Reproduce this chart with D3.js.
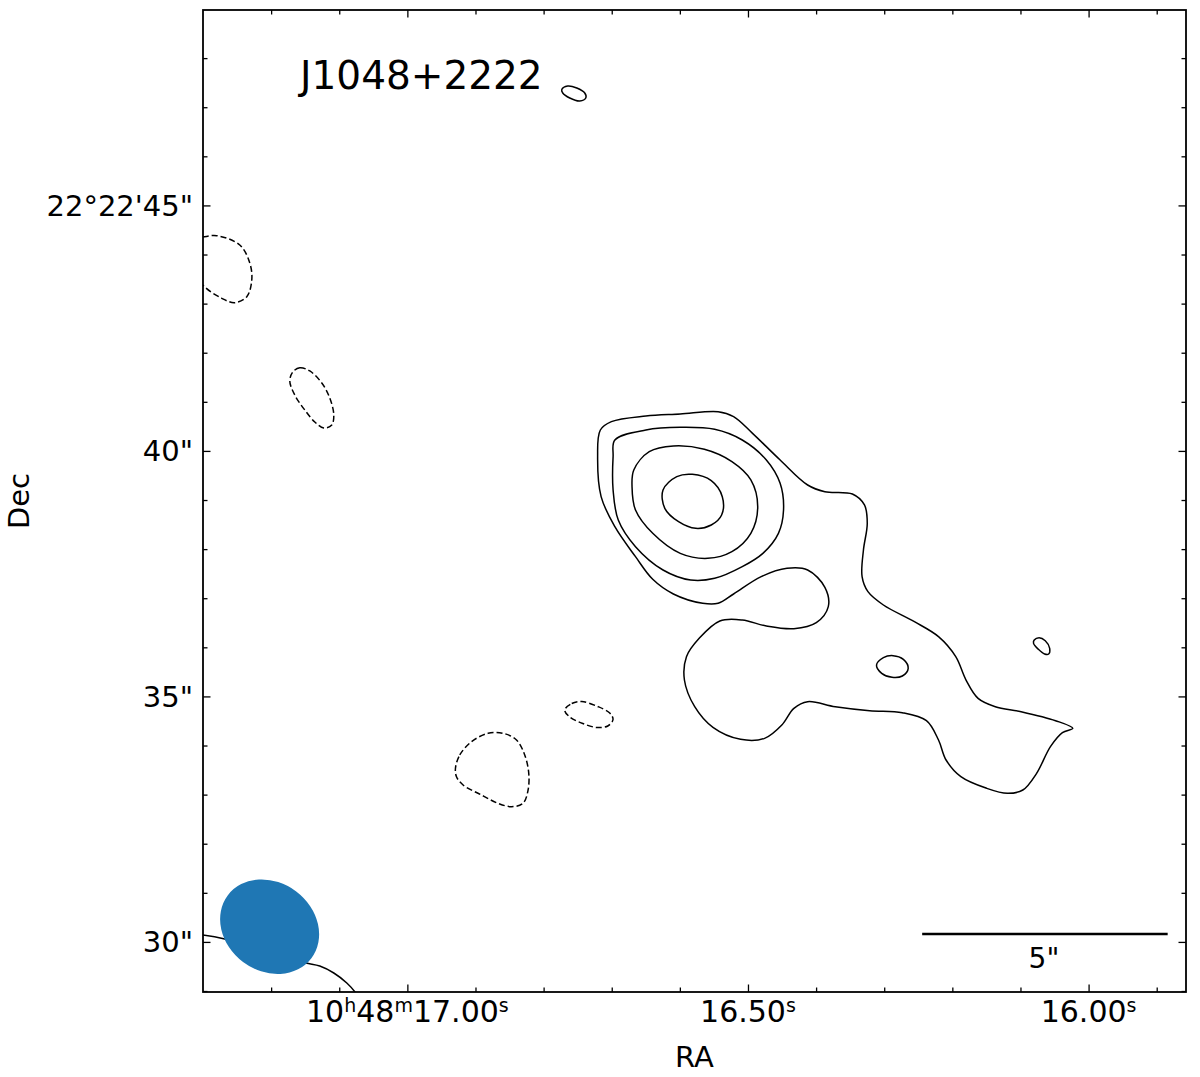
<!DOCTYPE html>
<html>
<head>
<meta charset="utf-8">
<script src="https://cdn.jsdelivr.net/npm/d3@7"></script>
<style>
  body { margin: 0; background: #fff; }
  text { font-family: "DejaVu Sans", sans-serif; fill: #000; }
</style>
</head>
<body>
<div class="contourmap"></div>
<script>
// source name
const sourceName = "J1048+2222";

// axis ticks (RA in seconds of 10h48m, Dec in arcsec of +22d22')
const raMajor = [17.0, 16.5, 16.0];
const raLabels = [["10", "h", "48", "m", "17.00", "s"], ["16.50", "s"], ["16.00", "s"]];
const raMinor = [17.2, 17.1, 16.9, 16.8, 16.7, 16.6, 16.4, 16.3, 16.2, 16.1, 15.9];
const decMajor = [30, 35, 40, 45];
const decLabels = ["30\"", "35\"", "40\"", "22°22'45\""];
const decMinor = [29, 31, 32, 33, 34, 36, 37, 38, 39, 41, 42, 43, 44, 46, 47, 48];

// positive contours, [RA s, Dec "]
const contourLevel1 = [
  [16.7005, 40.596], [16.6499, 40.711], [16.5994, 40.752], [16.5438, 40.799], [16.5211, 40.698],
  [16.4933, 40.358], [16.4528, 39.815], [16.4124, 39.306], [16.3871, 39.170], [16.3467, 39.123],
  [16.3290, 38.899], [16.3249, 38.525], [16.3305, 37.982], [16.3325, 37.439], [16.3239, 37.133],
  [16.3012, 36.862], [16.2557, 36.522], [16.2203, 36.217], [16.1950, 35.810], [16.1799, 35.334],
  [16.1622, 34.961], [16.1369, 34.791], [16.0990, 34.689], [16.0485, 34.506], [16.0232, 34.350],
  [16.0384, 34.262], [16.0560, 33.977], [16.0763, 33.434], [16.0965, 33.094], [16.1192, 33.026],
  [16.1496, 33.128], [16.1875, 33.366], [16.2092, 33.705], [16.2203, 34.112], [16.2380, 34.506],
  [16.2734, 34.669], [16.3214, 34.710], [16.3719, 34.791], [16.4124, 34.893], [16.4326, 34.757],
  [16.4503, 34.418], [16.4756, 34.146], [16.5109, 34.126], [16.5514, 34.370], [16.5782, 34.791],
  [16.5933, 35.334], [16.5903, 35.810], [16.5716, 36.183], [16.5413, 36.536], [16.5084, 36.556],
  [16.4730, 36.434], [16.4326, 36.380], [16.3997, 36.502], [16.3821, 36.828], [16.3871, 37.222],
  [16.4124, 37.575], [16.4427, 37.609], [16.4806, 37.439], [16.5211, 37.086], [16.5438, 36.896],
  [16.5665, 36.896], [16.6095, 37.086], [16.6398, 37.385], [16.6651, 37.846], [16.6954, 38.457],
  [16.7156, 39.068], [16.7207, 39.883], [16.7167, 40.426]
];
const contourLevel2 = [
  [16.6954, 40.222], [16.6499, 40.426], [16.5994, 40.480], [16.5489, 40.440], [16.5084, 40.222],
  [16.4730, 39.815], [16.4528, 39.340], [16.4478, 38.797], [16.4553, 38.322], [16.4781, 37.914],
  [16.5084, 37.643], [16.5489, 37.405], [16.5842, 37.371], [16.6247, 37.575], [16.6651, 38.050],
  [16.6904, 38.593], [16.6980, 39.204], [16.6980, 39.883]
];
const contourLevel3 = [
  [16.6676, 39.611], [16.6449, 39.985], [16.6095, 40.100], [16.5640, 40.032], [16.5236, 39.781],
  [16.4958, 39.408], [16.4857, 38.865], [16.4958, 38.322], [16.5236, 37.948], [16.5590, 37.812],
  [16.5994, 37.914], [16.6398, 38.322], [16.6651, 38.797], [16.6702, 39.272]
];
const contourLevel4 = [
  [16.6247, 39.204], [16.6045, 39.476], [16.5817, 39.523], [16.5539, 39.394], [16.5377, 39.068],
  [16.5387, 38.695], [16.5539, 38.491], [16.5767, 38.423], [16.6019, 38.559], [16.6221, 38.831]
];
const blobTop = [
  [16.7733, 47.361], [16.7646, 47.432], [16.7513, 47.391], [16.7396, 47.290],
  [16.7381, 47.188], [16.7469, 47.127], [16.7616, 47.188], [16.7719, 47.290]
];
const blobMid = [
  [16.3113, 35.640], [16.3012, 35.789], [16.2870, 35.830], [16.2719, 35.755],
  [16.2648, 35.572], [16.2734, 35.416], [16.2885, 35.389], [16.3037, 35.470]
];
const blobRight = [
  [16.0798, 36.149], [16.0727, 36.197], [16.0636, 36.135], [16.0571, 35.979],
  [16.0586, 35.864], [16.0646, 35.864], [16.0737, 35.959], [16.0808, 36.081]
];
// open arc crossing the lower left corner
const arcCorner = [
  [17.3267, 30.161], [17.3003, 30.141], [17.2680, 30.059], [17.2093, 29.774], [17.1491, 29.570],
  [17.1286, 29.509], [17.1080, 29.367], [17.0889, 29.163], [17.0757, 28.959], [17.0654, 28.715]
];

// negative contours (dashed)
const negEdge = [
  [17.3120, 44.336], [17.3003, 44.357], [17.2797, 44.383], [17.2460, 44.194], [17.2313, 43.827],
  [17.2284, 43.481], [17.2357, 43.141], [17.2533, 43.019], [17.2724, 43.108], [17.3003, 43.379],
  [17.3223, 43.888]
];
const negUpper = [
  [17.1682, 41.607], [17.1579, 41.695], [17.1432, 41.628], [17.1256, 41.383], [17.1139, 41.078],
  [17.1080, 40.731], [17.1110, 40.528], [17.1227, 40.467], [17.1359, 40.589], [17.1506, 40.833],
  [17.1653, 41.139], [17.1726, 41.424]
];
const negLower = [
  [16.9294, 33.536], [16.9231, 33.807], [16.9059, 34.078], [16.8815, 34.249], [16.8595, 34.249],
  [16.8398, 34.112], [16.8277, 33.807], [16.8218, 33.434], [16.8228, 33.094], [16.8302, 32.823],
  [16.8472, 32.754], [16.8669, 32.823], [16.8912, 32.992], [16.9182, 33.196], [16.9279, 33.365]
];
const negSmall = [
  [16.7690, 34.723], [16.7587, 34.855], [16.7440, 34.896], [16.7205, 34.794], [16.7029, 34.662],
  [16.6981, 34.530], [16.7058, 34.397], [16.7220, 34.367], [16.7425, 34.448], [16.7616, 34.581]
];

// restoring beam: centre, full axes in arcsec, tilt in degrees
const beamCentre = [17.2022, 30.310];
const beamAxes = [2.13, 1.80];
const beamTilt = 37;

// scale bar: right end and length in arcsec
const scaleBarEnd = [15.8839, 30.161];
const scaleBarLength = 5;

const W = 1200, H = 1077;
const frame = {left: 203, right: 1186, top: 10, bottom: 992};

const svg = d3.select(".contourmap")
  .append("svg")
    .attr("width", W)
    .attr("height", H);

const x = d3.scaleLinear().domain([17.3, 15.857]).range([frame.left, frame.right]);
const y = d3.scaleLinear().domain([28.98, 48.98]).range([frame.bottom, frame.top]);
const pxPerArcsec = y(0) - y(1);

svg.append("clipPath").attr("id", "plotclip")
  .append("rect")
    .attr("x", frame.left).attr("y", frame.top)
    .attr("width", frame.right - frame.left).attr("height", frame.bottom - frame.top);

const plot = svg.append("g").attr("clip-path", "url(#plotclip)");

const closed = d3.line().x(d => x(d[0])).y(d => y(d[1])).curve(d3.curveCatmullRomClosed.alpha(0.5));
const open = d3.line().x(d => x(d[0])).y(d => y(d[1])).curve(d3.curveCatmullRom.alpha(0.5));

// solid contours
plot.selectAll(".pos")
  .data([contourLevel1, contourLevel2, contourLevel3, contourLevel4, blobTop, blobMid, blobRight])
  .enter()
  .append("path")
    .attr("class", "pos")
    .attr("d", closed)
    .attr("fill", "none")
    .attr("stroke", "black")
    .attr("stroke-width", 1.5);

plot.append("path")
  .datum(arcCorner)
  .attr("d", open)
  .attr("fill", "none")
  .attr("stroke", "black")
  .attr("stroke-width", 1.5);

// dashed contours
plot.selectAll(".neg")
  .data([negEdge, negUpper, negLower, negSmall])
  .enter()
  .append("path")
    .attr("class", "neg")
    .attr("d", closed)
    .attr("fill", "none")
    .attr("stroke", "black")
    .attr("stroke-width", 1.5)
    .attr("stroke-dasharray", "6,3");

// beam
plot.append("ellipse")
  .attr("cx", x(beamCentre[0]))
  .attr("cy", y(beamCentre[1]))
  .attr("rx", beamAxes[0] / 2 * pxPerArcsec)
  .attr("ry", beamAxes[1] / 2 * pxPerArcsec)
  .attr("transform", "rotate(" + beamTilt + "," + x(beamCentre[0]) + "," + y(beamCentre[1]) + ")")
  .attr("fill", "#1f77b4");

// scale bar
const sbRight = x(scaleBarEnd[0]);
const sbLeft = sbRight - scaleBarLength * pxPerArcsec;
svg.append("line")
  .attr("x1", sbLeft).attr("x2", sbRight)
  .attr("y1", y(scaleBarEnd[1])).attr("y2", y(scaleBarEnd[1]))
  .attr("stroke", "black")
  .attr("stroke-width", 2.5);
svg.append("text")
  .attr("x", (sbLeft + sbRight) / 2 - 1)
  .attr("y", y(scaleBarEnd[1]) + 34)
  .attr("text-anchor", "middle")
  .style("font-size", "28px")
  .text(scaleBarLength + "\"");

// ticks on all four sides, pointing in
function ticks(axisFn, values, len, tx, ty) {
  const g = svg.append("g")
    .attr("transform", "translate(" + tx + "," + ty + ")")
    .call(axisFn.tickValues(values).tickSize(-len).tickFormat(""));
  g.select(".domain").remove();
  g.selectAll(".tick line").attr("stroke-width", 1.3);
}
ticks(d3.axisBottom(x), raMinor, 4.5, 0, frame.bottom);
ticks(d3.axisBottom(x), raMajor, 7.5, 0, frame.bottom);
ticks(d3.axisTop(x), raMinor, 4.5, 0, frame.top);
ticks(d3.axisTop(x), raMajor, 7.5, 0, frame.top);
ticks(d3.axisLeft(y), decMinor, 4.5, frame.left, 0);
ticks(d3.axisLeft(y), decMajor, 7.5, frame.left, 0);
ticks(d3.axisRight(y), decMinor, 4.5, frame.right, 0);
ticks(d3.axisRight(y), decMajor, 7.5, frame.right, 0);

// frame
svg.append("rect")
  .attr("x", frame.left).attr("y", frame.top)
  .attr("width", frame.right - frame.left).attr("height", frame.bottom - frame.top)
  .attr("fill", "none")
  .attr("stroke", "black")
  .attr("stroke-width", 1.8);

// RA labels with superscript units
raMajor.forEach((v, i) => {
  const t = svg.append("text")
    .attr("x", x(v))
    .attr("y", frame.bottom + 30)
    .attr("text-anchor", "middle")
    .style("font-size", "30px");
  raLabels[i].forEach((part, j) => {
    const sup = j % 2 === 1;
    t.append("tspan")
      .attr("dy", sup ? -10 : (j > 0 ? 10 : 0))
      .style("font-size", sup ? "19px" : "30px")
      .text(part);
  });
});

// Dec labels
svg.selectAll(".declab")
  .data(decMajor)
  .enter()
  .append("text")
    .attr("class", "declab")
    .attr("x", frame.left - 10)
    .attr("y", d => y(d))
    .attr("dy", "0.36em")
    .attr("text-anchor", "end")
    .style("font-size", "29px")
    .text((d, i) => decLabels[i]);

// axis titles
svg.append("text")
  .attr("x", (frame.left + frame.right) / 2)
  .attr("y", 1067)
  .attr("text-anchor", "middle")
  .style("font-size", "29px")
  .text("RA");

svg.append("text")
  .attr("transform", "translate(29," + ((frame.top + frame.bottom) / 2) + ") rotate(-90)")
  .attr("text-anchor", "middle")
  .style("font-size", "29px")
  .text("Dec");

svg.append("text")
  .attr("x", 300)
  .attr("y", 89)
  .style("font-size", "39px")
  .text(sourceName);
</script>
</body>
</html>
